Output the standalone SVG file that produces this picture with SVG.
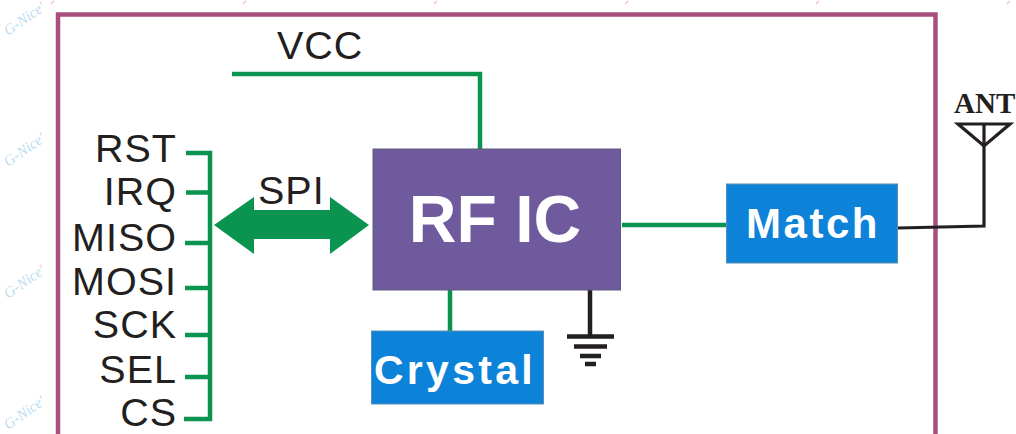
<svg xmlns="http://www.w3.org/2000/svg" width="1016" height="434" viewBox="0 0 1016 434">
<style>
.lbl{font-family:"Liberation Sans",Arial,sans-serif;font-size:39.500px;fill:#231f20;letter-spacing:1px}
.end{text-anchor:end}
.g{fill:none;stroke:#0b9350;stroke-width:4.500}
.k{fill:none;stroke:#231f20;stroke-width:3.200}
.w{font-family:"Liberation Sans",Arial,sans-serif;font-weight:bold;fill:#fff;text-anchor:middle}
.wm{font-family:"Liberation Serif","Times New Roman",serif;font-style:italic;font-size:15px;fill:#bcdcf2}
.wmp{fill:#f6c3cd}
.gnd{stroke:#231f20;stroke-width:4.500}
</style>
<rect width="1016" height="434" fill="#fff"/>
<g id="watermarks">
<text class="wm" transform="translate(8,36) rotate(-35)">G-Nice<tspan class="wmp">'</tspan></text>
<text class="wm" transform="translate(8,167) rotate(-35)">G-Nice<tspan class="wmp">'</tspan></text>
<text class="wm" transform="translate(8,299) rotate(-35)">G-Nice<tspan class="wmp">'</tspan></text>
<text class="wm" transform="translate(8,430) rotate(-35)">G-Nice<tspan class="wmp">'</tspan></text>
<path d="M51 4l3-3M243 4l3-3M434 4l3-3M625 4l3-3M816 4l3-3M1007 4l3-3" stroke="#f6c3cd" stroke-width="1.500" fill="none"/>
</g>
<g id="frame"><path d="M58 434V14.500H935.500V434" fill="none" stroke="#a84f80" stroke-width="4.500"/></g>
<g id="connectors">
<path class="g" d="M232 74H480V149"/>
<path class="g" d="M186 153H210V419H184M186 192.500H210M185 243H210M185 288H210M185 335H210M185 377H210"/>
<path class="g" d="M450 290V331"/>
<path class="g" d="M622 225H726"/>
<path class="k" d="M898 228L984 226V125"/>
<path class="gnd" fill="none" d="M590 289V336"/>
<polygon points="214,225 254,197 254,210 330,210 330,197 369,225 330,254 330,239 254,239 254,254" fill="#0b9350"/>
</g>
<g id="vcc"><text class="lbl" x="277" y="59">VCC</text></g>
<g id="pins">
<text class="lbl end" x="177" y="162">RST</text>
<text class="lbl end" x="177" y="205">IRQ</text>
<text class="lbl end" x="177" y="251">MISO</text>
<text class="lbl end" x="177" y="295">MOSI</text>
<text class="lbl end" x="177" y="338">SCK</text>
<text class="lbl end" x="177" y="383">SEL</text>
<text class="lbl end" x="177" y="426">CS</text>
</g>
<g id="spi"><text class="lbl" x="258" y="204">SPI</text></g>
<g id="rfic">
<rect x="373" y="149" width="247.500" height="141" fill="#6f5a9e" stroke="#5f5a80" stroke-width="1"/>
<text class="w" x="495" y="242" font-size="66">RF IC</text>
</g>
<g id="crystal">
<rect x="371.500" y="331" width="172" height="73" fill="#0d82d9" stroke="#5c8fb5" stroke-width="1"/>
<text class="w" x="455" y="384" font-size="41" letter-spacing="3.300">Crystal</text>
</g>
<g id="match">
<rect x="726.500" y="184" width="171" height="79" fill="#0d82d9" stroke="#5c8fb5" stroke-width="1"/>
<text class="w" x="813" y="238" font-size="42" letter-spacing="2.500">Match</text>
</g>
<g id="ground">
<path class="gnd" d="M567 336.500H614M574 346.500H607M580 356H601"/>
<path class="gnd" d="M585 364H596"/>
</g>
<g id="antenna">
<polygon class="k" points="958,124 1010,124 984,146"/>
<text x="954" y="113" font-family="Liberation Serif,Times New Roman,serif" font-weight="bold" font-size="29" fill="#231f20">ANT</text>
</g>
</svg>
